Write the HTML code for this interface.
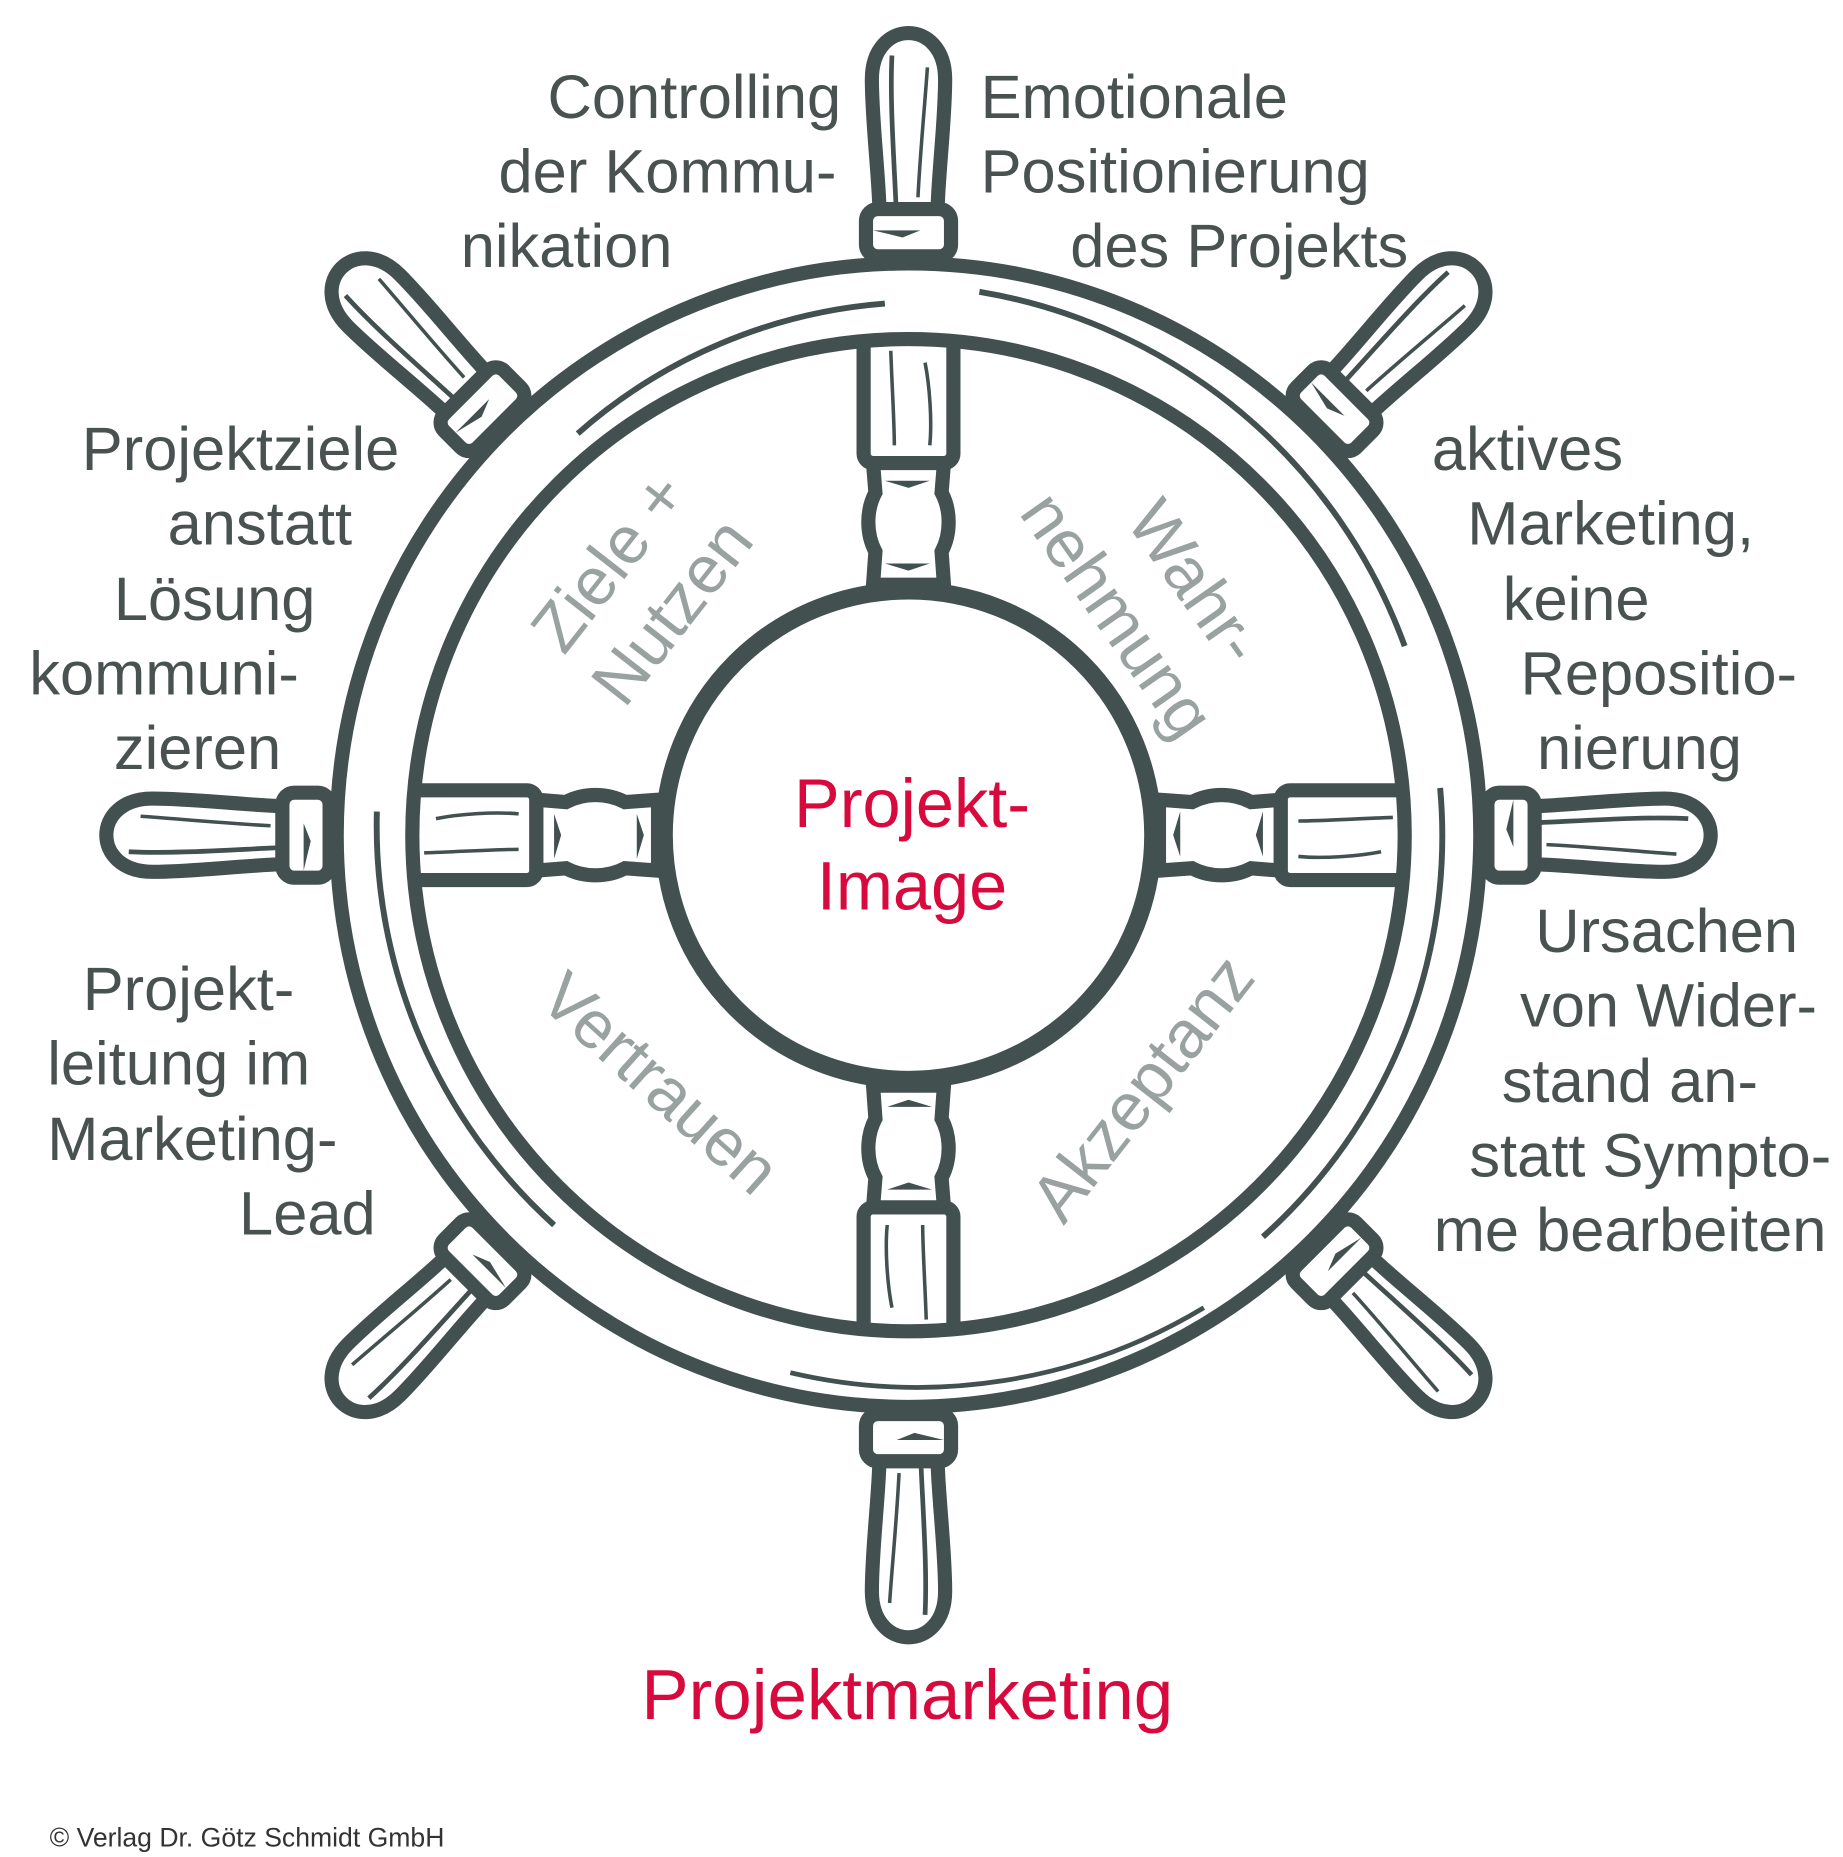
<!DOCTYPE html>
<html><head><meta charset="utf-8"><style>
html,body{margin:0;padding:0;background:#fff;}
svg{display:block;}
text{font-family:"Liberation Sans",Arial,sans-serif;}
</style></head><body>
<svg width="1843" height="1857" viewBox="0 0 1560 1572" preserveAspectRatio="none" xmlns="http://www.w3.org/2000/svg">
<defs>
<g id="handle">
  <path d="M -24 -505 C -24 -555 -31 -600 -31 -640 C -31 -692 31 -692 31 -640 C 31 -600 24 -555 24 -505 Z" fill="#fff" stroke="#435050" stroke-width="12"/>
  <path d="M -10 -520 C -12 -570 -16 -620 -14 -660" fill="none" stroke="#435050" stroke-width="4"/>
  <path d="M 8 -540 C 10 -580 14 -620 16 -650" fill="none" stroke="#435050" stroke-width="3"/>
  <rect x="-36" y="-530" width="72" height="40" rx="10" fill="#fff" stroke="#435050" stroke-width="12"/>
  <path d="M -30 -512 L 10 -512 L -5 -506 Z" fill="#435050"/>
</g>
<g id="spoke">
  <rect x="-38" y="-425" width="76" height="110" rx="8" fill="#fff" stroke="#435050" stroke-width="12"/>
  <path d="M -30 -315 L 30 -315 L 28 -290 C 36 -275 36 -255 28 -240 L 30 -212 L -30 -212 L -28 -240 C -36 -255 -36 -275 -28 -290 Z" fill="#fff" stroke="#435050" stroke-width="12"/>
  <path d="M -20 -300 L 18 -300 L 0 -294 Z M -20 -230 L 18 -230 L 0 -224 Z" fill="#435050"/>
  <path d="M -15 -410 C -14 -380 -12 -350 -12 -330 M 14 -400 C 18 -380 20 -350 18 -330" fill="none" stroke="#435050" stroke-width="3"/>
</g>
</defs>
<g transform="translate(769,707)">
  <use href="#handle" transform="rotate(0)"/>
  <use href="#handle" transform="rotate(45)"/>
  <use href="#handle" transform="rotate(90)"/>
  <use href="#handle" transform="rotate(135)"/>
  <use href="#handle" transform="rotate(180)"/>
  <use href="#handle" transform="rotate(225)"/>
  <use href="#handle" transform="rotate(270)"/>
  <use href="#handle" transform="rotate(315)"/>
  <use href="#spoke" transform="rotate(0)"/>
  <use href="#spoke" transform="rotate(90)"/>
  <use href="#spoke" transform="rotate(180)"/>
  <use href="#spoke" transform="rotate(270)"/>
  <circle r="452" fill="none" stroke="#fff" stroke-width="58"/>
  <circle r="484" fill="none" stroke="#435050" stroke-width="12"/>
  <circle r="420" fill="none" stroke="#435050" stroke-width="12"/>
  <path d="M -280 -340 A 445 445 0 0 1 -20 -450" fill="none" stroke="#435050" stroke-width="5"/>
  <path d="M 60 -460 A 465 465 0 0 1 420 -160" fill="none" stroke="#435050" stroke-width="5"/>
  <path d="M 450 -40 A 455 455 0 0 1 300 340" fill="none" stroke="#435050" stroke-width="5"/>
  <path d="M 250 400 A 470 470 0 0 1 -100 455" fill="none" stroke="#435050" stroke-width="4"/>
  <path d="M -300 330 A 455 455 0 0 1 -450 -20" fill="none" stroke="#435050" stroke-width="5"/>
  <circle r="207" fill="#fff" stroke="#435050" stroke-width="15"/>
</g>
<g fill="#4a5151" font-size="52">
  <text x="712" y="100" text-anchor="end">Controlling</text>
  <text x="708" y="163" text-anchor="end">der Kommu-</text>
  <text x="390" y="226">nikation</text>
  <text x="830" y="100">Emotionale</text>
  <text x="830" y="163">Positionierung</text>
  <text x="1192" y="226" text-anchor="end">des Projekts</text>
  <text x="338" y="398" text-anchor="end">Projektziele</text>
  <text x="298" y="461" text-anchor="end">anstatt</text>
  <text x="267" y="525" text-anchor="end">Lösung</text>
  <text x="253" y="588" text-anchor="end">kommuni-</text>
  <text x="238" y="651" text-anchor="end">zieren</text>
  <text x="1212" y="398">aktives</text>
  <text x="1242" y="461">Marketing,</text>
  <text x="1272" y="525">keine</text>
  <text x="1287" y="588">Repositio-</text>
  <text x="1301" y="651">nierung</text>
  <text x="70" y="855">Projekt-</text>
  <text x="40" y="918">leitung im</text>
  <text x="40" y="982">Marketing-</text>
  <text x="318" y="1045" text-anchor="end">Lead</text>
  <text x="1522" y="806" text-anchor="end">Ursachen</text>
  <text x="1538" y="869" text-anchor="end">von Wider-</text>
  <text x="1488" y="933" text-anchor="end">stand an-</text>
  <text x="1550" y="996" text-anchor="end">statt Sympto-</text>
  <text x="1546" y="1059" text-anchor="end">me bearbeiten</text>
</g>
<g fill="#9aa1a1" font-size="57">
  <g transform="translate(540,495) rotate(-52)">
    <text x="0" y="-12" text-anchor="middle">Ziele +</text>
    <text x="0" y="56" text-anchor="middle">Nutzen</text>
  </g>
  <g transform="translate(975,500) rotate(55)">
    <text x="15" y="-15" text-anchor="middle">Wahr-</text>
    <text x="0" y="55" text-anchor="middle">nehmung</text>
  </g>
  <g transform="translate(558,918) rotate(42)">
    <text x="0" y="18" text-anchor="middle">Vertrauen</text>
  </g>
  <g transform="translate(968,922) rotate(-52)">
    <text x="0" y="18" text-anchor="middle">Akzeptanz</text>
  </g>
</g>
<g fill="#d7093d" text-anchor="middle">
  <text x="772" y="700" font-size="58">Projekt-</text>
  <text x="772" y="770" font-size="58">Image</text>
  <text x="768" y="1455" font-size="60">Projektmarketing</text>
</g>
<text x="42" y="1563" font-size="22.5" fill="#333">© Verlag Dr. Götz Schmidt GmbH</text>
</svg>
</body></html>
